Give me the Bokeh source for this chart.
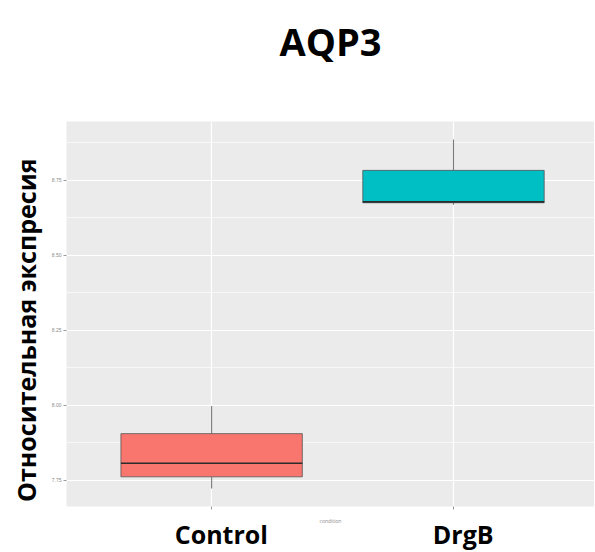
import math
from bokeh.plotting import figure
from bokeh.models import Range1d, FixedTicker, LinearAxis
from bokeh.embed import file_html
from bokeh.resources import INLINE

# ---- data ----
categories = ["Control", "DrgB"]
whisker_low = [7.722, 8.668]
q1 = [7.761, 8.675]
median = [7.806, 8.678]
q3 = [7.905, 8.783]
whisker_high = [7.997, 8.886]
colors = ["#F8766D", "#00BFC4"]
y_ticks = [7.75, 8.00, 8.25, 8.50, 8.75]
y_tick_labels = ["7.75", "8.00", "8.25", "8.50", "8.75"]
title_text = "AQP3"
y_label_text = "Относительная экспресия"
x_label_text = "condition"

xs = [i + 1 for i in range(len(categories))]
box_w = 0.75
FONT = "Open Sans"
NB = "\u00a0"

p = figure(width=594, height=551, output_backend="svg", toolbar_location=None,
           x_range=Range1d(0.4, 2.583), y_range=Range1d(7.662, 8.946),
           min_border_left=66, min_border_right=0, min_border_top=121, min_border_bottom=45)
p.background_fill_color = "#EBEBEB"
p.border_fill_color = "white"
p.outline_line_color = None

# grids
p.xgrid.ticker = FixedTicker(ticks=xs)
p.xgrid.grid_line_color = "white"
p.xgrid.grid_line_width = 1.2
p.ygrid.ticker = FixedTicker(ticks=y_ticks, minor_ticks=[t + 0.125 for t in y_ticks] + [y_ticks[0] - 0.125])
p.ygrid.grid_line_color = "white"
p.ygrid.grid_line_width = 1.2
p.ygrid.minor_grid_line_color = "white"
p.ygrid.minor_grid_line_width = 0.6

# y axis
ya = p.left[0]
ya.ticker = FixedTicker(ticks=y_ticks)
ya.major_label_overrides = {t: l for t, l in zip(y_ticks, y_tick_labels)}
ya.major_label_text_font_size = "5px"
ya.major_label_text_color = "#8a8a8a"
ya.axis_line_color = None
ya.major_tick_line_color = "#9a9a9a"
ya.major_tick_out = 3
ya.major_tick_in = 0
ya.minor_tick_line_color = None
ya.major_label_standoff = 2
ya.axis_label = y_label_text + NB * 5
ya.axis_label_text_font = FONT
ya.axis_label_text_font_style = "bold"
ya.axis_label_text_font_size = "25px"
ya.axis_label_text_color = "black"
ya.axis_label_standoff = 6

# x axis (below): category labels + small axis title
xa = p.below[0]
xa.ticker = FixedTicker(ticks=xs)
xa.major_label_overrides = {x: NB * 3 + c for x, c in zip(xs, categories)}
xa.major_label_text_font = FONT
xa.major_label_text_font_style = "bold"
xa.major_label_text_font_size = "25px"
xa.major_label_text_color = "black"
xa.major_label_standoff = 7
xa.axis_line_color = None
xa.major_tick_line_color = "#9a9a9a"
xa.major_tick_out = 3
xa.major_tick_in = 0
xa.minor_tick_line_color = None
xa.axis_label = x_label_text
xa.axis_label_text_font = FONT
xa.axis_label_text_font_size = "5px"
xa.axis_label_text_font_style = "normal"
xa.axis_label_text_color = "#8a8a8a"
xa.axis_label_standoff = -36

# title drawn as the label of an empty axis above the frame
title_axis = LinearAxis(ticker=FixedTicker(ticks=[]), axis_label=title_text)
title_axis.axis_line_color = None
title_axis.major_tick_line_color = None
title_axis.minor_tick_line_color = None
title_axis.major_label_text_font_size = "1px"
title_axis.axis_label_text_font = FONT
title_axis.axis_label_text_font_style = "bold"
title_axis.axis_label_text_font_size = "38px"
title_axis.axis_label_text_color = "black"
title_axis.axis_label_standoff = 55
p.add_layout(title_axis, "above")

# whiskers
p.segment(x0=xs, y0=whisker_low, x1=xs, y1=q1, line_color="#7a7a7a", line_width=1.1)
p.segment(x0=xs, y0=q3, x1=xs, y1=whisker_high, line_color="#7a7a7a", line_width=1.1)
# boxes
p.quad(left=[x - box_w / 2 for x in xs], right=[x + box_w / 2 for x in xs],
       bottom=q1, top=q3, fill_color=colors, line_color="#555555", line_width=0.8)
# medians
p.segment(x0=[x - box_w / 2 for x in xs], y0=median, x1=[x + box_w / 2 for x in xs], y1=median,
          line_color="#2b2b2b", line_width=1.6)

open("out.html", "w").write(file_html(p, INLINE))
